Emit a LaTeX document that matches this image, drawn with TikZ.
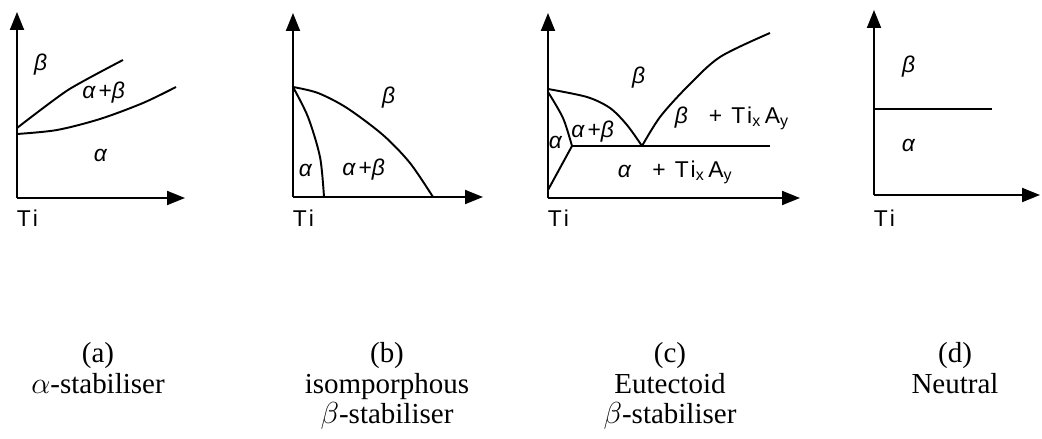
\documentclass[tikz,border=0pt]{standalone}
\usepackage{fontspec}
\setmainfont{Liberation Serif}
\newfontfamily\diagfont[LetterSpace=12]{Liberation Sans}
\usetikzlibrary{arrows.meta}

\tikzset{
  axis/.style={line width=1.1pt,-{Triangle[length=0.36cm,width=0.28cm]}},
  phase/.style={font=\diagfont\fontsize{13}{15}\selectfont,inner sep=0pt},
  caption/.style={font=\fontsize{16.5}{17.6}\selectfont,align=center,anchor=north,inner sep=0pt}
}
\newcommand{\gra}{\textit{α}}
\newcommand{\grb}{\textit{β}}
\newcommand{\tixay}{Ti\textsubscript{x}\,A\textsubscript{y}}

\begin{document}
\begin{tikzpicture}[x=0.02cm,y=-0.02cm,line width=1.1pt]
\useasboundingbox (0,0) rectangle (1042,439);

% (a) alpha stabiliser
\draw[axis] (17,198) -- (17,12);
\draw[axis] (17,198) -- (185,198);
\draw plot[smooth,tension=0.4] coordinates {(17,128) (68,90) (123,60)};
\draw plot[smooth] coordinates {(17,134) (57,130) (100,119) (143,103) (176,87)};
\node[phase] (ba) at (42,65) {\grb};
\node[phase] (aba) at (105,93) {\gra+\grb};
\node[phase] (aa) at (102,155) {\gra};
\node[phase,anchor=west] (tia) at (16,218) {Ti};

% (b) isomorphous
\draw[axis] (293,197) -- (293,13);
\draw[axis] (293,197) -- (483,197);
\draw plot[smooth] coordinates {(293,87) (308,117) (320,157) (324,197)};
\draw plot[smooth] coordinates {(293,87) (318,93) (347,108) (383,135) (410,163) (433,197)};
\node[phase] (bb) at (390,98) {\grb};
\node[phase] (ab) at (307,170) {\gra};
\node[phase] (abb) at (365,170) {\gra+\grb};
\node[phase,anchor=west] (tib) at (292,218) {Ti};

% (c) eutectoid
\draw[axis] (548,198) -- (548,13);
\draw[axis] (548,198) -- (800,198);
\draw plot[smooth] coordinates {(548,89) (587,97) (610,108) (627,125) (642,146)};
\draw plot[smooth] coordinates {(642,146) (660,117) (687,87) (720,57) (770,33)};
\draw (572,146) -- (770,146);
\draw plot[smooth] coordinates {(548,92) (563,118) (572,146)};
\draw (572,146) -- (548,190);
\node[phase] (bc) at (640,78) {\grb};
\node[phase,anchor=west] (btc) at (674,118) {\grb\ \ + \tixay};
\node[phase] (ac) at (557,142) {\gra};
\node[phase] (abc) at (594,132) {\gra+\grb};
\node[phase,anchor=west] (atc) at (617,172) {\gra\ \ + \tixay};
\node[phase,anchor=west] (tic) at (547,218) {Ti};

% (d) neutral
\draw[axis] (874,195) -- (874,10);
\draw[axis] (874,195) -- (1040,195);
\draw (874,109) -- (992,109);
\node[phase] (bd) at (910,67) {\grb};
\node[phase] (ad) at (910,145) {\gra};
\node[phase,anchor=west] (tid) at (873,218) {Ti};

% captions
\node[caption] (capa) at (98,341) {(a)\\$\alpha$-stabiliser};
\node[caption] (capb) at (387,341) {(b)\\isomporphous\\$\beta$-stabiliser};
\node[caption] (capc) at (670,341) {(c)\\Eutectoid\\$\beta$-stabiliser};
\node[caption] (capd) at (955,341) {(d)\\Neutral};
\end{tikzpicture}
\end{document}
